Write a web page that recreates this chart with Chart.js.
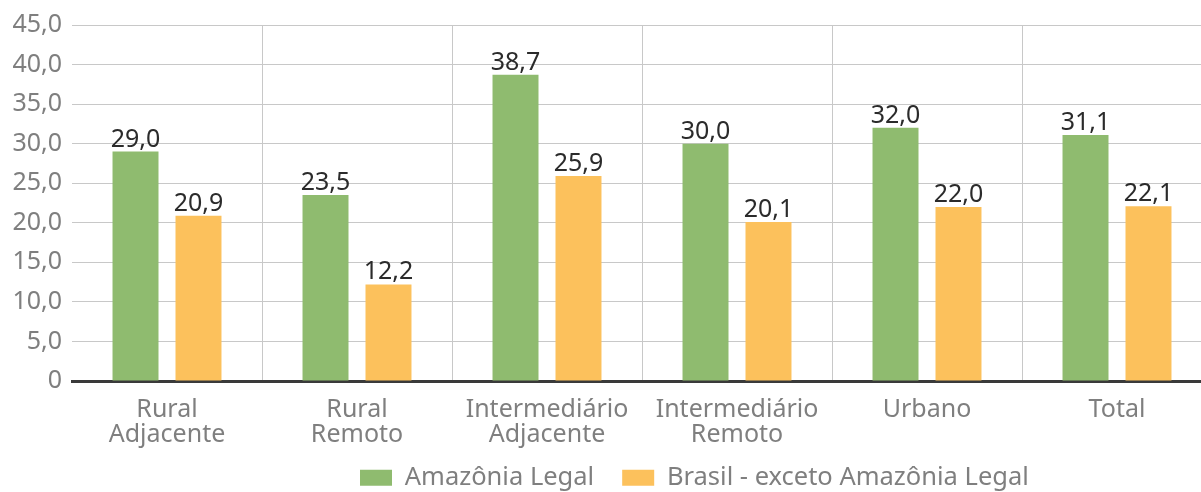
<script src="https://cdn.jsdelivr.net/npm/chart.js@4.4.1/dist/chart.umd.min.js"></script>
<style>
  html, body { margin: 0; padding: 0; background: #fff; overflow: hidden; }
  #wrap { width: 1201px; height: 492px; overflow: hidden; }
</style>

<div id="wrap">
  <canvas id="bar-chart" width="1212" height="520"></canvas>
</div>

<script>
// categories (multi-line labels)
const categories = [
  ['Rural', 'Adjacente'],
  ['Rural', 'Remoto'],
  ['Intermediário', 'Adjacente'],
  ['Intermediário', 'Remoto'],
  ['Urbano'],
  ['Total']
];
const amazoniaLegal = [29.0, 23.5, 38.7, 30.0, 32.0, 31.1];
const brasilExceto  = [20.9, 12.2, 25.9, 20.1, 22.0, 22.1];
const seriesNames = ['Amazônia Legal', 'Brasil - exceto Amazônia Legal'];

const fmt = v => v === 0 ? '0' : v.toFixed(1).replace('.', ',');

// value labels on top of the bars
const barLabels = {
  id: 'barLabels',
  afterDatasetsDraw(chart) {
    const ctx = chart.ctx;
    ctx.save();
    ctx.font = '25px "Noto Sans"';
    ctx.fillStyle = '#2b2b2b';
    ctx.textAlign = 'center';
    ctx.textBaseline = 'alphabetic';
    chart.data.datasets.forEach((ds, i) => {
      chart.getDatasetMeta(i).data.forEach((bar, j) => {
        ctx.fillText(fmt(ds.data[j]), bar.x, bar.y - 5);
      });
    });
    ctx.restore();
  }
};

// legend sits off-centre and a bit higher in the original
const legendPos = {
  id: 'legendPos',
  afterLayout(chart) {
    const lg = chart.legend;
    const w = lg.right - lg.left, h = lg.bottom - lg.top;
    lg.left = 332;
    lg.right = lg.left + w;
    lg.top = 437;
    lg.bottom = lg.top + h;
  }
};

new Chart(document.getElementById('bar-chart'), {
  type: 'bar',
  data: {
    labels: categories,
    datasets: [
      { label: seriesNames[0], data: amazoniaLegal, backgroundColor: '#8fbb6f' },
      { label: seriesNames[1], data: brasilExceto,  backgroundColor: '#fcc15c' }
    ]
  },
  options: {
    responsive: false,
    animation: false,
    layout: { padding: { top: 25, right: 0, bottom: 0, left: 0 } },
    datasets: {
      bar: { categoryPercentage: 0.663, barPercentage: 0.73 }
    },
    plugins: {
      tooltip: { enabled: false },
      legend: {
        position: 'bottom',
        align: 'start',
        labels: {
          boxWidth: 32,
          boxHeight: 16,
          padding: 28,
          color: '#7f7f7f',
          font: { family: 'Noto Sans', size: 25.5 }
        }
      }
    },
    scales: {
      x: {
        afterFit(scale) { scale.height = 75.5; },
        grid: {
          offset: true,
          drawTicks: false,
          color: ctx => ctx.index === 0 ? 'rgba(0,0,0,0)' : '#c8c8c8',
          lineWidth: 1
        },
        border: { display: true, color: '#3a3a3a', width: 3 },
        ticks: {
          padding: 17,
          color: '#7f7f7f',
          font: { family: 'Noto Sans', size: 25, lineHeight: 0.98 },
          maxRotation: 0
        }
      },
      y: {
        min: 0,
        max: 45,
        afterFit(scale) { scale.width = 72; },
        grid: { drawTicks: false, color: '#c8c8c8', lineWidth: 1 },
        border: { display: false },
        ticks: {
          stepSize: 5,
          padding: 10,
          color: '#7f7f7f',
          font: { family: 'Noto Sans', size: 25 },
          callback: v => fmt(v)
        }
      }
    }
  },
  plugins: [barLabels, legendPos]
});
</script>
